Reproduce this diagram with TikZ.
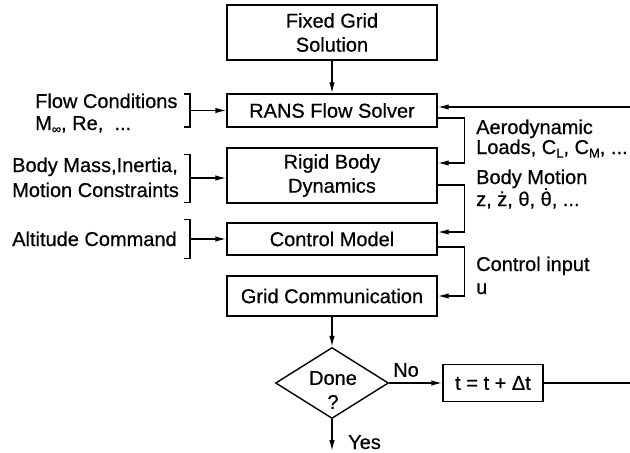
\documentclass[tikz,border=0pt]{standalone}
\usepackage{fontspec}
\setmainfont{Liberation Sans}[FakeBold=0.6]
\usetikzlibrary{shapes.geometric,arrows.meta}
\newcommand{\sbs}[1]{\raisebox{-3.5pt}{\fontsize{13}{13}\selectfont #1}}
\newcommand{\dotacc}[1]{\leavevmode\setbox0\hbox{#1}\hbox{\rlap{\copy0}\raisebox{\dimexpr\ht0+1.5pt\relax}{\makebox[\wd0]{\rule{2.4pt}{2.4pt}}}}}
\begin{document}
\begin{tikzpicture}[x=1pt,y=-1pt,
  every node/.style={font=\fontsize{20}{24}\selectfont},
  box/.style={draw,line width=1.4pt,minimum width=210pt,inner sep=0pt,align=center},
  conn/.style={line width=1.4pt,-{Latex[length=11pt,width=5.5pt]}},
  plain/.style={line width=1.4pt},
  txt/.style={anchor=base west,inner sep=0pt}]
\useasboundingbox (0,0) rectangle (630,453);
% main boxes
\node[box,minimum height=55pt] (fixed) at (332,32.5) {Fixed Grid\\Solution};
\node[box,minimum height=33pt] (rans) at (332,110.5) {RANS Flow Solver};
\node[box,minimum height=55pt] (rigid) at (332,175.5) {Rigid Body\\Dynamics};
\node[box,minimum height=32pt] (control) at (332,239) {Control Model};
\node[box,minimum height=40pt] (gridc) at (332,296) {Grid Communication};
\node[draw,diamond,line width=1.4pt,minimum width=113pt,minimum height=71pt,inner sep=0pt] (done) at (332,383) {};
\node[align=center,inner sep=0pt] (donetxt) at (333,390) {Done\\?};
\node[box,minimum width=100pt,minimum height=37pt] (tbox) at (493,383) {t = t + Δt};
% free ends
\coordinate (rightlow) at (630,383);
\coordinate (righttop) at (630,107);
\coordinate (yesend) at (332,451);
% vertical flow
\draw[conn] (fixed) -- (rans);
\draw[conn] (gridc) -- (done);
\draw[conn] (done.south) -- (yesend);
\draw[conn] (done.east) -- (tbox.west);
\draw[plain] (tbox.east) -- (rightlow);
\draw[conn] (righttop) -- ([yshift=3.5pt]rans.east);
\node[inner sep=0pt] (no) at (406,370) {No};
\node[txt] (yes) at (348,449) {Yes};
% right-side loops
\draw[conn] ([yshift=-7.5pt]rans.east) -- ++(27,0) |- ([yshift=12.5pt]rigid.east);
\draw[conn] ([yshift=-9.5pt]rigid.east) -- ++(27,0) |- ([yshift=7pt]control.east);
\draw[conn] ([yshift=-8pt]control.east) -- ++(27,0) |- (gridc.east);
\node[txt] (aero) at (476,134) {Aerodynamic};
\node[txt] (loads) at (476,154) {Loads, C\sbs{L}, C\sbs{M}, ...};
\node[txt] (bm) at (476,184) {Body Motion};
\node[txt] (zz) at (476,206) {z, ż, θ, \dotacc{θ}, ...};
\node[txt] (ci) at (476,271) {Control input};
\node[txt] (uu) at (476,294) {u};
% left inputs
\coordinate (b1) at (190,110.5);
\coordinate (b2) at (190,178);
\coordinate (b3) at (190,239);
\draw[plain] ([shift={(-6,-16.5)}]b1) -- ++(6,0) -- ++(0,33) -- ++(-6,0);
\draw[plain] ([shift={(-6,-23.5)}]b2) -- ++(6,0) -- ++(0,48) -- ++(-6,0);
\draw[plain] ([shift={(-6,-19.5)}]b3) -- ++(6,0) -- ++(0,39) -- ++(-6,0);
\draw[conn] (b1) -- (rans.west);
\draw[conn] (b2) -- (b2 -| rigid.west);
\draw[conn] (b3) -- (control.west);
\node[txt] (fc) at (35,108) {Flow Conditions};
\node[txt] (mre) at (35,130) {M\sbs{∞}, Re,\ \ ...};
\node[txt] (bmi) at (12,172) {Body Mass,Inertia,};
\node[txt] (mc) at (12,197) {Motion Constraints};
\node[txt] (alt) at (12,246) {Altitude Command};
\end{tikzpicture}
\end{document}
